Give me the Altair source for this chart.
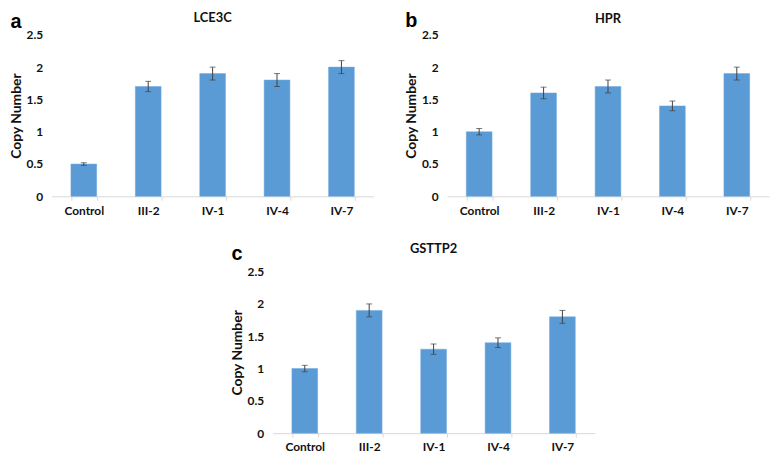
import altair as alt
import pandas as pd

categories = ["Control", "III-2", "IV-1", "IV-4", "IV-7"]

lce3c_values = [0.5, 1.7, 1.9, 1.8, 2.0]
lce3c_errors = [0.02, 0.08, 0.1, 0.1, 0.1]

hpr_values = [1.0, 1.6, 1.7, 1.4, 1.9]
hpr_errors = [0.05, 0.09, 0.1, 0.075, 0.1]

gsttp2_values = [1.0, 1.9, 1.3, 1.4, 1.8]
gsttp2_errors = [0.05, 0.1, 0.08, 0.075, 0.1]

y_ticks = [0, 0.5, 1, 1.5, 2, 2.5]

BLUE = "#5B9BD5"
ERR = "#404040"
FONT = "Lato"
TXT = "#111111"
W = 325
H = 163


def y_axis():
    return alt.Axis(
        values=y_ticks,
        format="~g",
        grid=False,
        domain=False,
        ticks=False,
        labelOverlap=False,
        labelFont=FONT,
        labelFontSize=12,
        labelFontWeight="bold",
        labelColor=TXT,
        labelPadding=9,
        titleFont=FONT,
        titleFontSize=14,
        titleFontWeight="bold",
        titleColor=TXT,
        titlePadding=3,
    )


def x_enc():
    return alt.X(
        "cat:N",
        sort=categories,
        title=None,
        scale=alt.Scale(paddingInner=0.6, paddingOuter=0.3),
        axis=alt.Axis(
            labelAngle=0,
            labelFont=FONT,
            labelFontSize=12,
            labelFontWeight="bold",
            labelColor=TXT,
            labelPadding=5,
            domainColor="#D9D9D9",
            tickColor="#D9D9D9",
            tickSize=4,
            tickBand="extent",
        ),
    )


def y_enc(field):
    return alt.Y(
        field + ":Q",
        scale=alt.Scale(domain=[0, 2.5]),
        title="Copy Number",
        axis=y_axis(),
    )


def panel(letter, gene, values, errors, title_y=-17, letter_y=-13):
    df = pd.DataFrame({"cat": categories, "val": values, "err": errors})
    df["lo"] = df["val"] - df["err"]
    df["hi"] = df["val"] + df["err"]
    base = alt.Chart(df)
    bars = base.mark_bar(color=BLUE, stroke="#6FA8DC", strokeWidth=0.5).encode(
        x=x_enc(), y=y_enc("val")
    )
    rule = base.mark_rule(color=ERR, strokeWidth=1).encode(
        x=x_enc(), y=y_enc("lo"), y2="hi:Q"
    )
    cap_lo = base.mark_tick(color=ERR, size=6, thickness=1).encode(x=x_enc(), y=y_enc("lo"))
    cap_hi = base.mark_tick(color=ERR, size=6, thickness=1).encode(x=x_enc(), y=y_enc("hi"))
    tdf = pd.DataFrame({"letter": [letter], "gene": [gene]})
    letter_mark = alt.Chart(tdf).mark_text(
        font="Liberation Sans", fontSize=20, fontWeight="bold", color="#000000",
        align="center", baseline="middle",
    ).encode(text="letter:N", x=alt.value(-36), y=alt.value(letter_y))
    gene_mark = alt.Chart(tdf).mark_text(
        font=FONT, fontSize=13, fontWeight="bold", color=TXT,
        align="center", baseline="middle",
    ).encode(text="gene:N", x=alt.value(W / 2), y=alt.value(title_y))
    return alt.layer(bars, rule, cap_lo, cap_hi, letter_mark, gene_mark).properties(
        width=W, height=H
    )


pa = panel("a", "LCE3C", lce3c_values, lce3c_errors, title_y=-17, letter_y=-13)
pb = panel("b", "HPR", hpr_values, hpr_errors, title_y=-16, letter_y=-14)
pc = panel("c", "GSTTP2", gsttp2_values, gsttp2_errors, title_y=-23, letter_y=-18)

spacer = alt.Chart(pd.DataFrame({"v": [0]})).mark_point(opacity=0, size=0).encode(
    x=alt.value(0), y=alt.value(0)
).properties(width=178, height=10)

top = alt.hconcat(pa, pb, spacing=29)
bottom = alt.hconcat(spacer, pc, spacing=0)

chart = alt.vconcat(top, bottom, spacing=25).properties(
    padding=0,
    background="white",
).configure_view(stroke="transparent")

chart.save("out.html", embed_options={"renderer": "svg", "actions": False})
